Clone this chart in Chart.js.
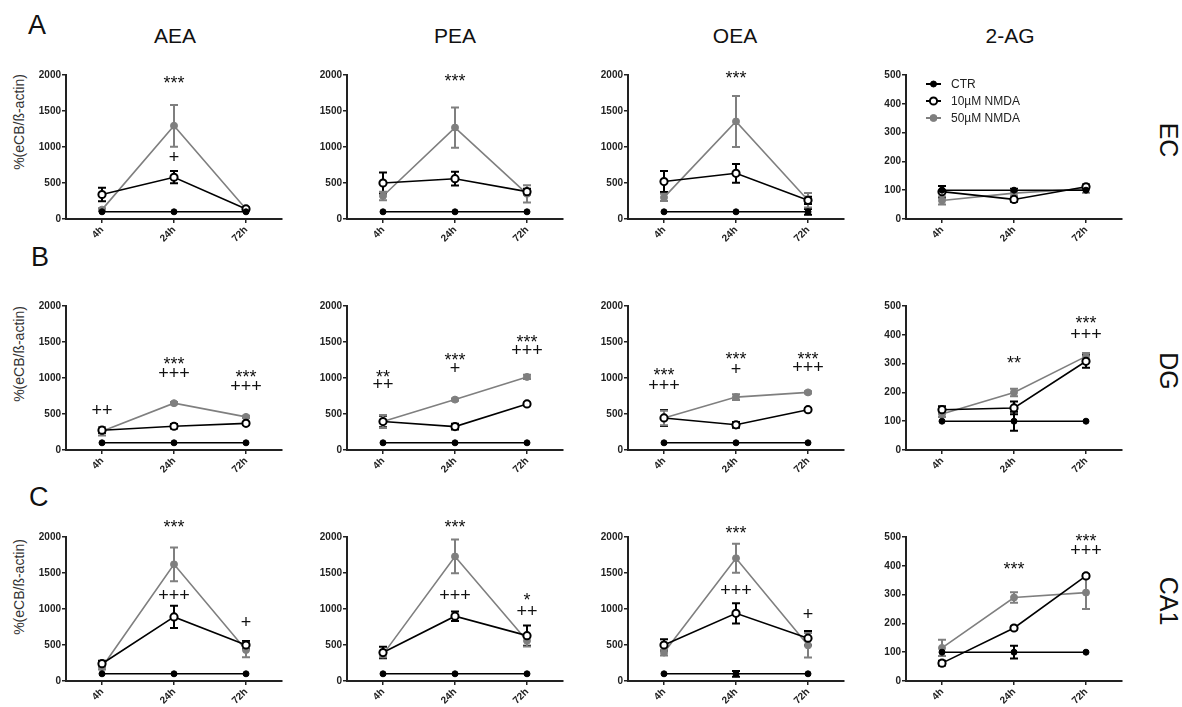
<!DOCTYPE html>
<html>
<head>
<meta charset="utf-8">
<script src="https://cdn.jsdelivr.net/npm/chart.js@4.4.1/dist/chart.umd.min.js"></script>
<style>
body{margin:0;background:#fff;width:1182px;height:707px;position:relative;overflow:hidden;font-family:"Liberation Sans",Arial,sans-serif;color:#111}
canvas{position:absolute}
.lbl{position:absolute;white-space:nowrap;line-height:1}
.big{font-size:27px}
.col{font-size:21px;width:120px;text-align:center}
.side{font-size:25px;transform:translate(-50%,-50%) rotate(90deg)}
.ytitle{font-size:14px;color:#333;transform:translate(-50%,-50%) rotate(-90deg)}
</style>
</head>
<body>

<div class="lbl big" style="left:28px;top:12px">A</div>
<div class="lbl big" style="left:31px;top:244px">B</div>
<div class="lbl big" style="left:29px;top:484px">C</div>

<div class="lbl col" style="left:115px;top:25px">AEA</div>
<div class="lbl col" style="left:395px;top:25px">PEA</div>
<div class="lbl col" style="left:675px;top:25px">OEA</div>
<div class="lbl col" style="left:950px;top:25px">2-AG</div>

<div class="lbl side" style="left:1168px;top:140px">EC</div>
<div class="lbl side" style="left:1168px;top:371px">DG</div>
<div class="lbl side" style="left:1168px;top:601px">CA1</div>

<div class="lbl ytitle" style="left:19px;top:122px">%(eCB/ß-actin)</div>
<div class="lbl ytitle" style="left:19px;top:354px">%(eCB/ß-actin)</div>
<div class="lbl ytitle" style="left:19px;top:587px">%(eCB/ß-actin)</div>

<script>
// categories
const times = ['4h', '24h', '72h'];
const groups = ['CTR', '10µM NMDA', '50µM NMDA'];
const compounds = ['AEA', 'PEA', 'OEA', '2-AG'];
const yMax = [2000, 2000, 2000, 500];
const yStep = [500, 500, 500, 100];

// EC  (one row per compound: AEA, PEA, OEA, 2-AG)
const ecCtr     = [[100,100,100],[100,100,100],[100,100,100],[100,100,100]];
const ecCtrErr  = [[0,0,0],[0,0,0],[0,0,40],[0,5,0]];
const ecLow     = [[340,580,140],[500,560,380],[520,635,260],[95,68,112]];
const ecLowErr  = [[95,85,20],[145,95,40],[145,130,50],[20,8,8]];
const ecHigh    = [[130,1295,140],[320,1270,350],[300,1355,260],[64,90,105]];
const ecHighErr = [[20,290,20],[60,280,120],[50,355,100],[14,10,14]];
const ecMarks = [
  [[1,1930,'***'],[1,850,'+']],
  [[1,1960,'***']],
  [[1,2000,'***']],
  []
];

// DG
const dgCtr     = [[100,100,100],[100,100,100],[100,100,100],[100,100,100]];
const dgCtrErr  = [[0,0,0],[0,0,0],[0,0,0],[0,33,0]];
const dgLow     = [[275,330,370],[395,325,640],[445,350,560],[140,146,308]];
const dgLowErr  = [[40,30,20],[80,40,20],[110,40,20],[12,22,22]];
const dgHigh    = [[260,650,460],[395,700,1015],[445,735,800],[125,200,325]];
const dgHighErr = [[60,15,15],[90,15,30],[100,40,15],[10,13,12]];
const dgMarks = [
  [[0,540,'++'],[1,1240,'***'],[1,1060,'+++'],[2,1050,'***'],[2,870,'+++']],
  [[0,1060,'**'],[0,905,'++'],[1,1290,'***'],[1,1125,'+'],[2,1540,'***'],[2,1380,'+++']],
  [[0,1085,'***'],[0,885,'+++'],[1,1300,'***'],[1,1110,'+'],[2,1300,'***'],[2,1140,'+++']],
  [[1,312,'**'],[2,450,'***'],[2,400,'+++']]
];

// CA1
const ca1Ctr     = [[100,100,100],[100,100,100],[100,100,100],[100,100,100]];
const ca1CtrErr  = [[0,0,0],[0,0,0],[0,40,0],[0,22,0]];
const ca1Low     = [[240,890,500],[395,900,630],[500,940,595],[62,184,365]];
const ca1LowErr  = [[40,155,55],[80,65,140],[80,140,100],[8,5,6]];
const ca1High    = [[190,1620,430],[370,1730,560],[395,1705,495],[115,290,307]];
const ca1HighErr = [[30,235,100],[40,235,80],[40,200,170],[28,18,57]];
const ca1Marks = [
  [[1,2185,'***'],[1,1185,'+++'],[2,800,'+']],
  [[1,2185,'***'],[1,1185,'+++'],[2,1165,'*'],[2,955,'++']],
  [[1,2100,'***'],[1,1255,'+++'],[2,920,'+']],
  [[1,400,'***'],[2,495,'***'],[2,453,'+++']]
];

const rows = [
  [ecCtr, ecCtrErr, ecLow, ecLowErr, ecHigh, ecHighErr, ecMarks],
  [dgCtr, dgCtrErr, dgLow, dgLowErr, dgHigh, dgHighErr, dgMarks],
  [ca1Ctr, ca1CtrErr, ca1Low, ca1LowErr, ca1High, ca1HighErr, ca1Marks]
];

const FONT = '"Liberation Sans", Arial, sans-serif';
Chart.defaults.font.family = FONT;

const axisX = [66, 347, 628, 906];
const topY = [75, 306, 537];
const GRAY = '#7f7f7f';

// error bars drawn before the points so open circles sit on top
const errorBars = {
  id: 'errorBars',
  beforeDatasetsDraw(chart) {
    const ctx = chart.ctx;
    const y = chart.scales.y;
    chart.data.datasets.forEach((ds, i) => {
      const meta = chart.getDatasetMeta(i);
      ds.errors.forEach((e, j) => {
        if (!e) return;
        const x = meta.data[j].x;
        const v = ds.data[j];
        const t = y.getPixelForValue(v + e);
        const b = y.getPixelForValue(Math.max(v - e, 0));
        ctx.save();
        ctx.strokeStyle = ds.borderColor;
        ctx.lineWidth = 2;
        ctx.beginPath();
        ctx.moveTo(x, t); ctx.lineTo(x, b);
        ctx.moveTo(x - 4, t); ctx.lineTo(x + 4, t);
        ctx.moveTo(x - 4, b); ctx.lineTo(x + 4, b);
        ctx.stroke();
        ctx.restore();
      });
    });
  }
};

function sigMarks(marks) {
  return {
    id: 'sigMarks',
    afterDraw(chart) {
      const ctx = chart.ctx;
      const xs = chart.scales.x, ys = chart.scales.y;
      ctx.save();
      ctx.fillStyle = '#111';
      ctx.font = '18px ' + FONT;
      ctx.textAlign = 'center';
      ctx.textBaseline = 'middle';
      marks.forEach(m => {
        const x = xs.getPixelForValue(m[0]);
        let y = ys.getPixelForValue(m[1]);
        if (m[2].startsWith('*')) y += 4;
        ctx.fillText(m[2], x, y);
      });
      ctx.restore();
    }
  };
}

const legendBox = {
  id: 'legendBox',
  afterDraw(chart) {
    const ctx = chart.ctx;
    const a = chart.chartArea;
    ctx.save();
    chart.data.datasets.forEach((ds, i) => {
      const y = a.top + 9 + i * 17;
      const x0 = a.left + 20;
      ctx.strokeStyle = ds.borderColor;
      ctx.lineWidth = 2;
      ctx.beginPath(); ctx.moveTo(x0, y); ctx.lineTo(x0 + 15, y); ctx.stroke();
      ctx.beginPath(); ctx.arc(x0 + 7.5, y, ds.pointRadius, 0, Math.PI * 2);
      ctx.fillStyle = ds.pointBackgroundColor; ctx.fill();
      ctx.lineWidth = ds.pointBorderWidth; ctx.stroke();
      ctx.fillStyle = '#222';
      ctx.font = '12px ' + FONT;
      ctx.textBaseline = 'middle';
      ctx.fillText(ds.label, x0 + 25, y + 1);
    });
    ctx.restore();
  }
};

function makePanel(r, c) {
  const [ctr, ctrErr, low, lowErr, high, highErr, marks] = rows[r];
  const cv = document.createElement('canvas');
  cv.width = 280; cv.height = 224;
  cv.style.left = (axisX[c] - 56) + 'px';
  cv.style.top = (topY[r] - 45) + 'px';
  document.body.appendChild(cv);

  const axisCommon = {
    border: { display: true, color: '#222', width: 2 },
    grid: { drawOnChartArea: false, drawTicks: true, tickLength: 4, color: '#222', lineWidth: 1.5, offset: false }
  };

  const plugins = [errorBars, sigMarks(marks[c])];
  if (r === 0 && c === 3) plugins.push(legendBox);

  new Chart(cv, {
    type: 'line',
    data: {
      labels: times,
      datasets: [
        { label: groups[0], data: ctr[c], errors: ctrErr[c], borderColor: '#000', backgroundColor: '#000',
          pointBackgroundColor: '#000', pointBorderColor: '#000', pointRadius: 3, pointBorderWidth: 1, borderWidth: 1.6 },
        { label: groups[1], data: low[c], errors: lowErr[c], borderColor: '#000', backgroundColor: '#fff',
          pointBackgroundColor: '#fff', pointBorderColor: '#000', pointRadius: 3.6, pointBorderWidth: 2, borderWidth: 1.6 },
        { label: groups[2], data: high[c], errors: highErr[c], borderColor: GRAY, backgroundColor: GRAY,
          pointBackgroundColor: GRAY, pointBorderColor: GRAY, pointRadius: 3.5, pointBorderWidth: 1, borderWidth: 1.6 }
      ]
    },
    options: {
      responsive: false,
      animation: false,
      devicePixelRatio: 1,
      layout: { padding: { top: 45, left: 0, right: 8, bottom: 0 } },
      plugins: { legend: { display: false }, tooltip: { enabled: false } },
      elements: { line: { tension: 0 } },
      scales: {
        x: Object.assign({
          type: 'category', offset: true,
          ticks: { minRotation: 45, maxRotation: 45, color: '#222', padding: 1,
                   font: { size: 10, weight: 'bold' } },
          afterFit(s) { s.height = 35; s.paddingLeft = 0; s.paddingRight = 0; }
        }, axisCommon),
        y: Object.assign({
          min: 0, max: yMax[c],
          ticks: { stepSize: yStep[c], color: '#222', padding: 1, font: { size: 10, weight: 'bold' },
                   callback: v => String(v) },
          afterFit(s) { s.width = 56; s.paddingTop = 0; s.paddingBottom = 0; }
        }, axisCommon)
      }
    },
    plugins: plugins
  });
}

for (let r = 0; r < 3; r++) {
  for (let c = 0; c < 4; c++) makePanel(r, c);
}
</script>
</body>
</html>
